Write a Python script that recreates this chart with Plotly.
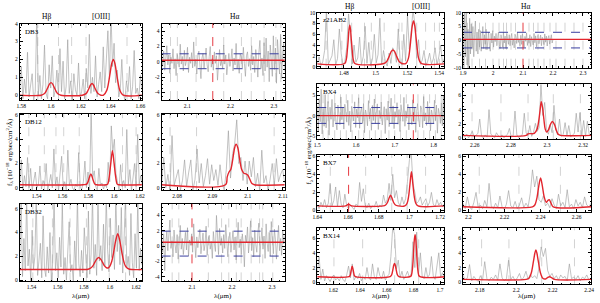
import numpy as np
import plotly.graph_objects as go

W, H = 600, 303
FONT = "Liberation Serif"

# ------------------------------------------------------------------ data
# A: DB3  Hbeta/[OIII]
A_xr = [1.579, 1.661]; A_yr = [-0.27, 4.0]
A_flux_span = [1.579, 1.661]
A_flux = [0.3,1.6,-0.2,0.9,0.1,2.4,-0.1,0.5,1.2,-0.3,
          0.2,4.5,0.0,1.1,-0.2,0.6,2.8,0.1,-0.2,1.7,
          0.4,2.2,-0.1,0.3,1.4,0.0,2.6,0.2,1.9,-0.2,
          0.5,3.1,0.1,0.8,-0.3,1.2,0.3,0.0,1.8,-0.1,
          0.2,0.9,-0.2,1.5,0.4,3.4,0.1,1.0,0.2,2.2,
          -0.1,0.6,1.3,0.2,2.7,0.4,1.8,3.6,0.9,4.6,
          1.6,2.9,0.7,1.4,-0.1,0.3,2.0,0.1,-0.3,0.8,
          0.2,1.6,-0.2,0.5,2.5,0.1,0.4,-0.2,1.1,0.3]
A_fit_lam = [1.579,1.5934,1.5956,1.5967,1.5978,1.5989,1.600,1.6011,1.6022,1.6033,1.6044,1.6066,
             1.621,1.6235,1.6245,1.6255,1.6265,1.6275,1.6285,1.6295,1.6305,1.6315,1.6335,
             1.6352,1.6374,1.6385,1.6396,1.6407,1.6418,1.6429,1.6440,1.6451,1.6462,1.6484,1.661]
A_fit_f = [0,0,0.09,0.23,0.42,0.62,0.7,0.62,0.42,0.23,0.09,0,
           0,0.09,0.21,0.39,0.57,0.65,0.57,0.39,0.21,0.09,0,
           0,0.27,0.65,1.21,1.76,2.0,1.76,1.21,0.65,0.27,0,0]
A_sky = [1.5911, 1.6050, 1.6138, 1.6235, 1.651]
A_xt = ["1.58","1.6","1.62","1.64","1.66"]; A_yt = ["0","1","2","3","4"]

# B: DB3  Halpha (non-detection)
B_xr = [2.041, 2.325]; B_yr = [-5, 5]
B_flux_span = [2.041, 2.325]
B_flux = [0.8,-0.6,1.4,-1.1,0.3,2.1,-0.4,0.9,-1.5,0.6,
          -0.2,1.7,-0.9,0.4,-1.8,1.1,0.2,-0.7,2.3,-0.3,
          0.7,-1.2,1.5,-0.5,0.1,1.9,-1.4,0.6,-0.2,1.2,
          -0.8,2.6,-0.6,0.3,-1.6,0.9,1.4,-0.3,-2.2,0.5,
          1.1,-0.9,0.2,1.8,-0.4,-1.3,0.7,2.0,-0.7,0.4,
          -1.1,1.3,-0.2,0.8,-2.4,0.6,1.6,-0.5,0.1,-0.9,
          2.2,-0.3,0.9,-1.7,0.4,1.1,-0.6,0.2,1.7,-1.2,
          0.5,-0.4,2.4,-0.9,0.3,-1.5,1.0,0.6,-0.8,1.9,
          -0.2,-1.9,0.8,1.3,-0.6,0.4,-1.1,2.1,-0.4,0.7,
          -1.4,1.6,0.2,-2.0,1.2,2.8,-0.9,0.5,-1.8,2.5,
          -1.2,3.1,-0.7,1.4,-2.6,2.2,0.3,-1.9,3.4,-1.0,
          1.8,-2.8,2.9,0.4,-1.6,3.6,-2.2,1.1,2.4,-1.3]
B_cont = 0.2; B_sig = [1.05, -0.9]; B_line = 2.159
B_sky = [2.0615, 2.0774, 2.1205, 2.1842, 2.2251, 2.2478, 2.2774, 2.3046, 2.3160]
B_xt = ["2.1","2.2","2.3"]; B_yt = ["-4","-2","0","2","4"]

# C: DB12  [OIII]
C_xr = [1.527, 1.6215]; C_yr = [-0.2, 6.1]
C_flux_span = [1.527, 1.6218]
C_flux = [0.2,2.3,-0.2,1.0,0.1,2.5,0.0,1.6,-0.2,
          0.5,1.3,0.0,0.3,1.8,-0.1,0.6,0.2,2.0,-0.2,0.4,1.1,
          0.0,3.2,0.3,0.9,-0.2,1.5,2.6,0.1,0.5,-0.2,
          3.1,0.2,0.7,0.0,-0.2,0.3,0.1,2.9,0.0,-0.1,
          0.5,2.2,0.0,1.3,-0.2,6.5,0.8,1.4,0.1,-0.2,
          1.6,0.2,0.4,-0.1,0.3,0.0,2.1,0.5,5.1,3.0,
          4.0,1.2,0.4,-0.2,1.9,0.1,0.6,0.0,4.8,0.3,
          1.5,-0.2,0.8,2.0,0.1,4.4,0.3,1.0,0.2]
C_fit_lam = [1.527,1.576,1.5788,1.5800,1.5810,1.5820,1.5830,1.5840,1.5852,1.5864,1.594,
             1.5950,1.5962,1.5975,1.5987,1.5999,1.6012,1.6024,1.6036,1.6215]
C_fit_f = [0.25,0.25,0.3,0.55,0.9,1.15,0.9,0.55,0.3,0.25,0.25,
           0.3,0.9,2.1,3.05,2.1,0.9,0.3,0.25,0.25]
C_sky = [1.534, 1.546, 1.555, 1.561, 1.573, 1.6065, 1.617]
C_xt = ["1.54","1.56","1.58","1.6","1.62"]; C_yt = ["0","2","4","6"]

# D: DB12  Halpha
D_xr = [2.0756, 2.1105]; D_yr = [-0.2, 6.1]
D_flux_span = [2.0756, 2.1105]
D_flux = [0.3,2.5,0.0,1.1,-0.3,4.3,0.2,0.8,1.5,-0.2,
          0.6,2.3,0.1,1.3,2.3,-0.2,0.7,3.2,0.4,2.0,
          0.1,1.0,2.4,0.3,1.9,0.6,1.5,0.2,1.9,0.4,
          -0.2,1.5,4.7,0.8,2.8,3.6,5.6,2.0,2.5,0.6,
          2.2,0.3,2.2,0.9,2.5,0.1,1.2,-0.2,3.1,0.4,
          1.0,-0.2,0.7,2.0,0.2,2.4,0.5,1.1,1.5,0.4]
D_fit_lam = [2.0756,2.0937,2.0942,2.0947,2.0952,2.0958,2.0963,2.0967,2.0972,2.0977,
             2.0983,2.0989,2.0995,2.1000,2.1006,2.1012,2.1019,2.1105]
D_fit_f = [0.25,0.25,0.9,1.3,1.5,2.4,3.3,3.6,3.3,2.4,1.5,1.2,1.15,1.05,0.7,0.35,0.25,0.25]
D_sky = [2.078, 2.0855, 2.1075]
D_xt = ["2.08","2.09","2.1","2.11"]; D_yt = ["0","2","4","6"]

# E: DB32  [OIII]
E_xr = [1.531, 1.6245]; E_yr = [-0.1, 6.4]
E_flux_span = [1.531, 1.6245]
E_flux = [2.1,6.8,0.3,3.5,0.8,7.0,1.2,2.6,-0.1,4.2,
          0.9,2.0,6.9,0.4,1.7,3.1,0.2,5.4,1.0,0.3,
          2.8,0.6,4.0,-0.1,1.5,7.0,0.8,2.3,0.2,3.6,
          1.1,6.6,0.5,1.9,0.0,2.7,4.9,0.7,1.3,-0.1,
          3.3,0.9,7.0,1.4,0.3,2.5,0.6,4.4,1.8,0.2,
          5.8,0.5,2.2,7.0,1.0,3.0,0.4,6.7,1.6,2.9,
          0.8,4.7,1.2,7.0,2.6,0.7,5.2,1.9,3.8,0.9,
          7.0,2.4,4.6,1.3,6.1,0.6,3.4,7.0,1.1,2.0,
          0.4,5.6,1.5,0.2,3.9,1.0,6.8,0.8,2.7,1.3]
E_fit_lam = [1.531,1.5800,1.5833,1.5856,1.5871,1.5885,1.5900,1.5914,1.5928,1.5943,1.5957,1.5972,
             1.5985,1.5998,1.6012,1.6028,1.6044,1.6060,1.6076,1.6092,1.6108,1.6124,1.6150,1.6245]
E_fit_f = [0.9,0.9,0.92,1.04,1.22,1.51,1.78,1.9,1.78,1.51,1.22,1.06,
           1.02,1.15,1.5,2.3,3.3,3.9,3.3,2.3,1.5,1.1,0.92,0.9]
E_sky = [1.541, 1.556, 1.5695, 1.582, 1.5995, 1.612]
E_xt = ["1.54","1.56","1.58","1.6","1.62"]; E_yt = ["0","2","4","6"]

# F: DB32  Halpha (non-detection)
F_xr = [2.024, 2.332]; F_yr = [-4.6, 5.5]
F_flux_span = [2.024, 2.332]
F_flux = [0.9,-0.8,1.6,-3.2,0.4,1.9,-0.6,1.2,3.4,-0.3,
          0.7,-1.4,2.1,0.2,-0.9,1.5,-1.7,0.6,2.7,-0.4,
          1.0,-1.1,0.3,1.8,-0.5,2.4,-1.3,0.8,0.1,1.6,
          -0.8,2.9,0.5,-1.5,1.2,-0.2,0.9,2.2,-1.0,0.4,
          1.7,-0.6,0.2,2.6,-1.2,0.8,1.4,-0.4,0.6,-1.6,
          1.9,0.3,-0.7,4.0,0.5,-1.1,2.3,0.1,1.0,-0.9,
          1.5,-0.3,2.8,0.6,-1.4,0.9,1.8,-0.8,0.4,2.0,
          -0.5,1.2,-1.8,0.7,3.1,-0.2,0.9,-1.1,1.6,0.3,
          -2.7,1.4,0.5,2.5,-0.9,0.8,3.3,-0.6,1.1,-1.4,
          2.1,0.2,-0.8,1.7,3.0,-1.2,0.6,2.4,-0.4,1.3,
          -1.6,2.9,0.4,-0.7,1.8,-1.3,3.2,0.5,-1.0,2.2,
          0.9,-1.7,1.5,2.7,-0.6,1.0,-1.2,2.0,0.3,1.4]
F_cont = 0.5; F_sig = [1.95, -1.3]; F_line = 2.1
F_sky = [2.0504, 2.067, 2.141, 2.174, 2.192, 2.211, 2.223, 2.248, 2.269, 2.277, 2.302]
F_xt = ["2.1","2.2","2.3"]; F_yt = ["-4","-2","0","2","4"]

# G: z21AB2  Hbeta/[OIII]
G_xr = [1.4632, 1.5433]; G_yr = [-0.2, 10]
G_flux_span = [1.4632, 1.5433]
G_flux = [0.5,1.8,0.2,0.9,3.0,10.5,0.4,1.2,2.0,5.0,
          0.3,1.5,7.0,2.5,0.2,1.0,3.5,9.8,6.0,0.5,
          4.0,0.8,1.6,5.5,0.3,1.9,7.5,0.6,4.5,0.2,
          1.4,6.0,0.7,2.2,9.0,0.4,3.0,0.9,0.1,2.5,
          0.6,3.5,2.8,0.8,7.0,1.2,0.3,6.0,1.0,9.5,
          3.2,6.5,10.5,8.0,1.5,5.0,0.4,1.2,3.0,0.2,
          1.0,2.5,0.5,1.4,3.5,0.3,1.8,4.0,0.6,1.5]
G_fit_lam = [1.4632,1.4805,1.4816,1.4821,1.4827,1.4832,1.4837,1.4842,1.4847,1.4853,1.4858,1.4869,
             1.5046,1.5067,1.5077,1.5088,1.5098,1.5109,1.5120,1.5130,1.5141,1.5151,1.5172,
             1.5191,1.5207,1.5215,1.5223,1.5231,1.5239,1.5247,1.5255,1.5263,1.5271,1.5287,1.5433]
G_fit_f = [0.5,0.58,1.47,2.84,4.87,6.85,7.7,6.85,4.87,2.84,1.47,0.58,
           0.53,0.85,1.35,2.08,2.79,3.1,2.79,2.08,1.35,0.85,0.53,
           0.59,1.58,3.1,5.36,7.56,8.5,7.56,5.36,3.1,1.58,0.59,0.5]
G_sky = [1.4688, 1.4787, 1.4849, 1.4930, 1.4973, 1.5054, 1.5147, 1.5166, 1.5259, 1.5315, 1.5371, 1.5402]
G_xt = ["1.48","1.5","1.52","1.54"]; G_yt = ["0","2","4","6","8","10"]

# H: z21AB2  Halpha (non-detection)
H_xr = [1.9, 2.327]; H_yr = [-10, 10]
H_flux_span = [1.9, 2.2]
H_flux = [9.5,-11,12,-6,11,-9,4,-12,8,-5,
          6,-3,5,-6,2,7,-4,3,-5,4,
          -2.5,3.5,-4,1.5,5,-3,2,-1.5,4,-3.5,
          1,3,-2,-4,2.5,-1,3.5,-2.5,1.5,-0.5,
          2.5,-2,1,3,-1.5,-3,2,0.5,-2.5,3,
          -1,1.5,-3,2.5,0.5,-1.5,2,-2,1,2.5,
          -1.8,0.5,-2.8,2.2,1.2,-1.2,2.8,-0.8,0.3,-2.2,
          1.8,-1.5,2.4,0.6,-2.6,1.4,-0.4,2.7,-1.9,0.8,
          -1.1,2.0,-2.3,1.3,0.2,-1.7,2.5,-0.9,1.6,-2.4,
          0.9,2.1,-1.3,-0.2,1.9,-2.0,1.1,0.4,-1.6,2.3,
          -0.7,1.5,-2.1,0.8,1.7,-1.4,0.6,2.0,-1.0,0.3]
H_cont = 0.3; H_sig = [2.9, -2.8]; H_line = 2.1
H_sky = [1.915, 1.93, 1.955, 1.975, 2.0, 2.02, 2.035, 2.045, 2.06, 2.075,
         2.12, 2.135, 2.15, 2.17, 2.19, 2.21, 2.24, 2.27, 2.3]
H_xt = ["1.9","2","2.1","2.2","2.3"]; H_yt = ["-10","-5","0","5","10"]

# I: BX4  [OIII] (non-detection)
I_xr = [1.5, 1.828]; I_yr = [-5.8, 7.7]
I_flux_span = [1.5, 1.828]
I_flux = [2.5,-3.8,4.2,-1.5,6.5,-4.5,1.8,-2.6,5.2,-3.0,
          0.8,3.5,-4.8,2.1,-0.9,4.0,-2.8,1.2,3.1,-1.7,
          -3.5,2.6,0.4,-2.2,4.6,-1.0,1.9,-3.3,2.8,0.2,
          -1.6,3.8,-2.4,1.1,-4.0,2.3,0.7,-1.3,3.4,-2.9,
          1.6,-0.5,4.4,-3.1,0.9,2.0,-1.9,3.0,-4.2,1.4,
          0.3,-2.5,3.7,-0.8,1.8,-3.6,2.5,-1.2,4.1,-2.0,
          0.6,2.9,-3.4,1.3,-0.7,3.3,-2.3,0.5,2.2,-4.4,
          1.7,-1.1,3.6,-2.7,0.1,4.3,-1.8,2.4,-3.2,1.0,
          -0.4,3.2,-2.1,1.5,-3.9,2.7,0.8,-1.4,4.5,-2.6,
          1.2,-0.6,2.8,-3.5,1.9,0.4,-2.2,3.9,-1.5,2.1,
          -4.1,1.1,3.0,-0.9,-2.8,2.4,1.6,-3.0,4.7,-1.3,
          0.7,-2.4,3.5,-1.7,2.2,-3.7,1.4,0.2,-2.0,3.8,
          -1.2,2.6,-4.3,1.8,0.5,-1.9,3.1,-2.5,5.0,-3.3]
I_cont = 0.0; I_sig = [2.0, -1.9]; I_line = 1.748
I_sky = [1.515, 1.528, 1.545, 1.56, 1.575, 1.59, 1.607, 1.62, 1.635, 1.65,
         1.665, 1.685, 1.7, 1.715, 1.73, 1.76, 1.775, 1.79, 1.805, 1.82]
I_xt = ["1.5","1.6","1.7","1.8"]; I_yt = ["-5","0","5"]

# J: BX4  Halpha
J_xr = [2.2535, 2.3244]; J_yr = [-0.1, 7.5]
J_flux_span = [2.2535, 2.3244]
J_flux = [0.4,0.2,0.6,0.1,0.5,1.0,0.2,0.4,0.7,2.7,
          0.3,0.1,0.5,0.2,4.0,0.6,0.3,0.1,0.8,0.4,
          0.2,0.5,0.1,0.3,0.6,1.4,0.2,0.4,3.8,0.5,
          0.1,0.3,0.6,3.5,0.8,0.4,1.8,0.3,0.9,2.1,
          1.0,1.5,7.5,3.2,5.0,1.2,0.6,1.9,0.8,4.6,
          1.3,0.5,2.7,0.3,0.6,2.2,0.4,1.8,0.2,0.5,
          0.7,3.5,0.9,3.6,0.4,2.5,0.3,2.4,0.6,0.3]
J_fit_lam = [2.2535,2.2885,2.2895,2.2930,2.2945,2.2955,2.2962,2.2968,2.2975,2.2983,2.2990,
             2.2998,2.3008,2.3018,2.3030,2.3042,2.3052,2.3062,2.3075,2.3244]
J_fit_f = [0.44,0.44,0.65,0.72,1.3,2.6,4.0,5.1,4.3,2.6,1.3,0.9,1.2,1.9,2.35,1.9,1.1,0.6,0.44,0.44]
J_sky = [2.2585, 2.2745, 2.2895, 2.3035, 2.3185]
J_xt = ["2.26","2.28","2.3","2.32"]; J_yt = ["0","2","4","6"]

# K: BX7  Hbeta/[OIII]
K_xr = [1.64, 1.7227]; K_yr = [-0.15, 6.15]
K_flux_span = [1.64, 1.7227]
K_flux = [0.6,0.2,0.9,0.4,1.2,0.3,0.8,3.0,0.5,1.1,
          2.6,0.4,2.2,0.7,0.3,1.8,0.5,0.2,0.6,0.4,
          0.1,0.7,0.5,3.1,1.0,2.4,0.6,0.3,0.8,0.2,
          0.5,0.4,1.0,0.3,0.6,0.4,1.7,0.8,1.2,3.0,
          1.1,4.0,1.4,2.2,0.9,0.5,1.5,0.7,1.3,3.2,
          5.5,6.5,3.0,2.0,0.8,1.0,1.5,0.6,1.0,1.3,
          0.5,0.9,2.0,0.7,0.4,1.2,0.6,0.9,0.4,0.7]
K_fit_lam = [1.64,1.6585,1.6595,1.6604,1.6613,1.6623,1.6830,1.6845,1.6856,1.6866,1.6877,1.6888,
             1.6898,1.6909,1.6925,1.6970,1.6985,1.6995,1.7004,1.7013,1.7022,1.7031,1.7041,1.7056,1.7227]
K_fit_f = [0.5,0.5,0.6,0.7,0.6,0.5,0.5,0.6,0.85,1.3,1.7,1.3,0.85,0.6,0.5,0.5,0.8,1.6,3.0,4.3,3.0,1.6,0.8,0.5,0.5]
K_line = 1.6604
K_sky = [1.6485, 1.6715, 1.6885, 1.6985, 1.7105]
K_xt = ["1.64","1.66","1.68","1.7","1.72"]; K_yt = ["0","2","4","6"]

# L: BX7  Halpha
L_xr = [2.197, 2.268]; L_yr = [-0.15, 6.15]
L_flux_span = [2.197, 2.268]
L_flux = [0.8,0.2,1.5,0.4,0.1,0.9,2.0,0.3,0.6,0.2,
          1.1,0.4,3.0,0.5,0.2,0.8,0.3,1.6,0.4,0.1,
          0.7,2.2,0.5,0.3,1.0,0.2,0.6,1.4,0.3,0.8,
          0.4,1.9,4.5,2.6,3.8,1.2,0.9,1.6,0.5,0.8,
          0.3,1.3,0.6,0.2,1.8,0.5,0.9,0.3,2.3,0.4,
          0.7,0.2,1.2,0.5,0.9,0.3,1.5,0.6,0.4,0.8]
L_fit_lam = [2.197,2.2355,2.2368,2.2380,2.2390,2.2400,2.2410,2.2420,2.2432,2.2440,2.2448,2.2458,2.2470,2.268]
L_fit_f = [0.4,0.4,0.6,1.4,2.7,3.6,2.7,1.5,0.9,1.1,1.2,0.8,0.4,0.4]
L_sky = [2.206, 2.228, 2.251]
L_xt = ["2.2","2.22","2.24","2.26"]; L_yt = ["0","2","4","6"]

# M: BX14  Hbeta/[OIII]
M_xr = [1.608, 1.7032]; M_yr = [-0.27, 7.3]
M_flux_span = [1.608, 1.7032]
M_flux = [1.2,3.5,0.4,1.8,0.2,0.9,0.5,0.1,0.7,1.0,
          0.3,0.6,0.2,0.9,0.4,0.1,1.0,2.2,0.6,2.5,
          0.3,0.8,0.5,1.2,0.2,0.7,0.4,2.0,0.6,0.3,
          2.5,0.8,0.4,2.0,0.9,0.5,1.5,0.3,0.8,1.1,
          3.5,7.5,6.5,1.8,3.0,0.6,1.5,0.4,0.9,1.5,
          0.7,1.2,5.5,2.0,6.8,1.0,4.0,0.8,0.5,2.0,
          0.6,1.1,3.5,0.9,0.4,2.5,4.0,0.7,1.3,0.5]
M_fit_lam = [1.608,1.6318,1.6326,1.6334,1.6342,1.6350,1.6358,1.6366,
             1.6626,1.6637,1.6648,1.66535,1.6659,1.66645,1.6670,1.6681,1.6692,
             1.6780,1.6791,1.6802,1.68075,1.6813,1.68185,1.6824,1.6835,1.6846,1.7032]
M_fit_f = [0.75,0.76,0.93,1.6,2.2,1.6,0.93,0.76,
           0.77,0.99,1.85,2.35,2.55,2.35,1.85,0.99,0.77,
           0.8,1.5,4.2,5.8,6.45,5.8,4.2,1.5,0.8,0.75]
M_sky = [1.6205, 1.642, 1.666, 1.684]
M_xt = ["1.62","1.64","1.66","1.68","1.7"]; M_yt = ["0","2","4","6"]

# N: BX14  Halpha
N_xr = [2.1708, 2.2411]; N_yr = [-0.27, 7.3]
N_flux_span = [2.1708, 2.2411]
N_flux = [1.0,0.3,0.6,2.4,0.2,0.8,0.4,0.1,0.9,0.3,
          2.8,0.5,0.2,0.7,0.4,1.0,0.3,2.5,0.6,0.2,
          0.5,3.0,0.4,0.8,0.2,0.6,1.2,0.3,0.7,1.5,
          0.4,1.1,0.6,0.9,0.5,2.0,4.8,3.5,4.6,1.6,
          0.8,1.2,0.5,0.9,0.3,1.0,0.6,0.8,0.2,2.5,
          0.5,0.7,0.4,0.9,0.2,0.7,0.5,1.0,0.3,0.6]
N_fit_lam = [2.1708,2.2055,2.2070,2.2083,2.2095,2.2102,2.2108,2.2114,2.2121,2.2133,2.2146,
             2.2160,2.2172,2.2184,2.2196,2.2210,2.2411]
N_fit_f = [0.4,0.4,0.55,1.3,2.9,3.9,4.4,3.9,2.9,1.3,0.55,0.45,0.65,0.75,0.6,0.4,0.4]
N_sky = [2.181, 2.196, 2.214, 2.232]
N_xt = ["2.18","2.2","2.22","2.24"]; N_yt = ["0","2","4","6"]

# pixel frames (left, right) / (top, bottom)
LEFT_COLS = [(15, 139), (159, 284)]
LEFT_ROWS = [(21, 99), (113, 191), (205, 284)]
RIGHT_COLS = [(317, 446), (465, 595)]
RIGHT_ROWS = [(10, 66), (83, 139), (155, 213), (230, 287)]

panels = [
    dict(xr=A_xr, yr=A_yr, span=A_flux_span, flux=A_flux, fl=A_fit_lam, ff=A_fit_f, sky=A_sky, xt=A_xt, yt=A_yt, box=(LEFT_COLS[0], LEFT_ROWS[0]), name="DB3", xm=0.005, ym=0.2),
    dict(xr=B_xr, yr=B_yr, span=B_flux_span, flux=B_flux, cont=B_cont, sig=B_sig, line=B_line, sky=B_sky, xt=B_xt, yt=B_yt, box=(LEFT_COLS[1], LEFT_ROWS[0]), xm=0.02, ym=0.5),
    dict(xr=C_xr, yr=C_yr, span=C_flux_span, flux=C_flux, fl=C_fit_lam, ff=C_fit_f, sky=C_sky, xt=C_xt, yt=C_yt, box=(LEFT_COLS[0], LEFT_ROWS[1]), name="DB12", xm=0.005, ym=0.5),
    dict(xr=D_xr, yr=D_yr, span=D_flux_span, flux=D_flux, fl=D_fit_lam, ff=D_fit_f, sky=D_sky, xt=D_xt, yt=D_yt, box=(LEFT_COLS[1], LEFT_ROWS[1]), xm=0.002, ym=0.5),
    dict(xr=E_xr, yr=E_yr, span=E_flux_span, flux=E_flux, fl=E_fit_lam, ff=E_fit_f, sky=E_sky, xt=E_xt, yt=E_yt, box=(LEFT_COLS[0], LEFT_ROWS[2]), name="DB32", xm=0.005, ym=0.5),
    dict(xr=F_xr, yr=F_yr, span=F_flux_span, flux=F_flux, cont=F_cont, sig=F_sig, line=F_line, sky=F_sky, xt=F_xt, yt=F_yt, box=(LEFT_COLS[1], LEFT_ROWS[2]), xm=0.02, ym=0.5),
    dict(xr=G_xr, yr=G_yr, span=G_flux_span, flux=G_flux, fl=G_fit_lam, ff=G_fit_f, sky=G_sky, xt=G_xt, yt=G_yt, box=(RIGHT_COLS[0], RIGHT_ROWS[0]), name="z21AB2", xm=0.005, ym=1),
    dict(xr=H_xr, yr=H_yr, span=H_flux_span, flux=H_flux, cont=H_cont, sig=H_sig, line=H_line, sky=H_sky, xt=H_xt, yt=H_yt, box=(RIGHT_COLS[1], RIGHT_ROWS[0]), xm=0.02, ym=1),
    dict(xr=I_xr, yr=I_yr, span=I_flux_span, flux=I_flux, cont=I_cont, sig=I_sig, line=I_line, sky=I_sky, xt=I_xt, yt=I_yt, box=(RIGHT_COLS[0], RIGHT_ROWS[1]), name="BX4", xm=0.02, ym=1),
    dict(xr=J_xr, yr=J_yr, span=J_flux_span, flux=J_flux, fl=J_fit_lam, ff=J_fit_f, sky=J_sky, xt=J_xt, yt=J_yt, box=(RIGHT_COLS[1], RIGHT_ROWS[1]), xm=0.005, ym=0.5),
    dict(xr=K_xr, yr=K_yr, span=K_flux_span, flux=K_flux, fl=K_fit_lam, ff=K_fit_f, line=K_line, sky=K_sky, xt=K_xt, yt=K_yt, box=(RIGHT_COLS[0], RIGHT_ROWS[2]), name="BX7", xm=0.005, ym=0.5),
    dict(xr=L_xr, yr=L_yr, span=L_flux_span, flux=L_flux, fl=L_fit_lam, ff=L_fit_f, sky=L_sky, xt=L_xt, yt=L_yt, box=(RIGHT_COLS[1], RIGHT_ROWS[2]), xm=0.005, ym=0.5),
    dict(xr=M_xr, yr=M_yr, span=M_flux_span, flux=M_flux, fl=M_fit_lam, ff=M_fit_f, sky=M_sky, xt=M_xt, yt=M_yt, box=(RIGHT_COLS[0], RIGHT_ROWS[3]), name="BX14", xm=0.005, ym=0.5),
    dict(xr=N_xr, yr=N_yr, span=N_flux_span, flux=N_flux, fl=N_fit_lam, ff=N_fit_f, sky=N_sky, xt=N_xt, yt=N_yt, box=(RIGHT_COLS[1], RIGHT_ROWS[3]), xm=0.005, ym=0.5),
]

GRAY = "#9a9a9a"
RED = "#e3262e"
BLUE = "#3a3fa0"
SKY = "#b5b5b5"

fig = go.Figure()
layout = {}
shapes = []
annotations = []

def px_x(p):
    return p / W

def px_y(p):
    return 1 - p / H

for k, p in enumerate(panels, start=1):
    (x0, x1), (y0, y1) = p["box"]
    xa = "x" if k == 1 else "x%d" % k
    ya = "y" if k == 1 else "y%d" % k
    xkey = "xaxis" if k == 1 else "xaxis%d" % k
    ykey = "yaxis" if k == 1 else "yaxis%d" % k
    common = dict(ticks="inside", ticklen=3, tickwidth=0.6, tickcolor="black",
                  mirror="allticks", showline=True, linecolor="black", linewidth=0.8,
                  showgrid=False, zeroline=False,
                  tickfont=dict(size=5.5, family=FONT, color="black"))
    layout[xkey] = dict(domain=[px_x(x0), px_x(x1)], range=p["xr"], anchor=ya,
                        tickmode="array", tickvals=[float(t) for t in p["xt"]], ticktext=p["xt"],
                        minor=dict(ticks="inside", ticklen=1.5, tickwidth=0.5, tickcolor="black",
                                   tick0=0, dtick=p["xm"]), **common)
    layout[ykey] = dict(domain=[px_y(y1), px_y(y0)], range=p["yr"], anchor=xa,
                        tickmode="array", tickvals=[float(t) for t in p["yt"]], ticktext=p["yt"],
                        minor=dict(ticks="inside", ticklen=1.5, tickwidth=0.5, tickcolor="black",
                                   tick0=0, dtick=p["ym"]), **common)

    for s in p["sky"]:
        shapes.append(dict(type="line", xref=xa, yref=ya + " domain", x0=s, x1=s, y0=0, y1=1,
                           line=dict(color=SKY, width=0.6, dash="dash"), layer="below"))

    lam = np.linspace(p["span"][0], p["span"][1], len(p["flux"]))
    fig.add_trace(go.Scatter(x=lam, y=p["flux"], mode="lines", xaxis=xa, yaxis=ya,
                             line=dict(color=GRAY, width=0.6), showlegend=False, hoverinfo="skip"))

    if "sig" in p:
        for sv in p["sig"]:
            fig.add_trace(go.Scatter(x=p["xr"], y=[sv, sv], mode="lines", xaxis=xa, yaxis=ya,
                                     line=dict(color=BLUE, width=1.0, dash="dash"), showlegend=False))
    if "cont" in p:
        fig.add_trace(go.Scatter(x=p["xr"], y=[p["cont"], p["cont"]], mode="lines", xaxis=xa, yaxis=ya,
                                 line=dict(color=RED, width=1.4), showlegend=False))
    if "fl" in p:
        fig.add_trace(go.Scatter(x=p["fl"], y=p["ff"], mode="lines", xaxis=xa, yaxis=ya,
                                 line=dict(color=RED, width=1.4, shape="spline", smoothing=0.9),
                                 showlegend=False))
    if "line" in p:
        shapes.append(dict(type="line", xref=xa, yref=ya + " domain", x0=p["line"], x1=p["line"],
                           y0=0, y1=1, line=dict(color=RED, width=0.9, dash="dash"), layer="above"))
    if "name" in p:
        annotations.append(dict(text=p["name"], xref=xa + " domain", yref=ya + " domain",
                                x=0.03, y=0.97, xanchor="left", yanchor="top", showarrow=False,
                                font=dict(size=7, family=FONT, color="black")))

for txt, x, y in [("Hβ", 42, 14), ("[OIII]", 97, 14), ("Hα", 233, 14),
                  ("Hβ", 350, 4), ("[OIII]", 422, 4), ("Hα", 528, 4)]:
    annotations.append(dict(text=txt, xref="paper", yref="paper", x=px_x(x), y=px_y(y),
                            xanchor="center", yanchor="middle", showarrow=False,
                            font=dict(size=7.5, family=FONT, color="black")))

ytitle = "f<sub>λ</sub> (10<sup>−18</sup> erg/sec/cm<sup>2</sup>/Å)"
for x, y in [(5, 152), (308, 150)]:
    annotations.append(dict(text=ytitle, xref="paper", yref="paper", x=px_x(x), y=px_y(y),
                            xanchor="center", yanchor="middle", textangle=-90, showarrow=False,
                            font=dict(size=7, family=FONT, color="black")))
for x in [77, 221.5, 381.5, 530]:
    annotations.append(dict(text="λ(μm)", xref="paper", yref="paper", x=px_x(x), y=px_y(298.5),
                            xanchor="center", yanchor="middle", showarrow=False,
                            font=dict(size=7, family=FONT, color="black")))

fig.update_layout(width=W, height=H, margin=dict(l=0, r=0, t=0, b=0),
                  paper_bgcolor="white", plot_bgcolor="white",
                  shapes=shapes, annotations=annotations, **layout)
fig.write_html("out.html", config={"displayModeBar": False},
               post_script="document.body.style.margin='0';document.body.style.overflow='hidden';")
